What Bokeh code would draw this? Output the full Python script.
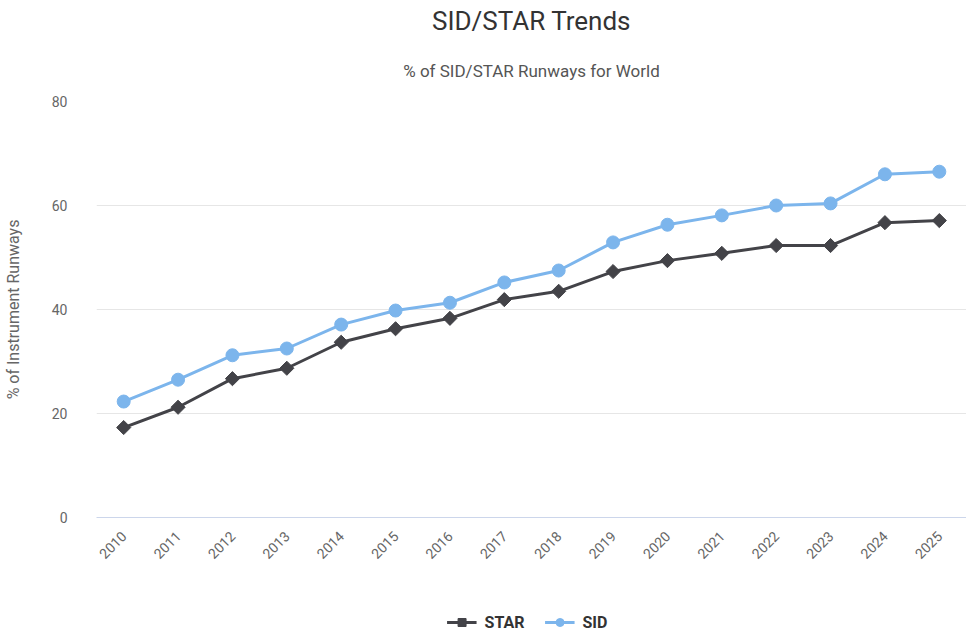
from math import pi
from bokeh.plotting import figure
from bokeh.layouts import column
from bokeh.models import Title, Legend, LegendItem, Range1d, FactorRange
from bokeh.embed import file_html
from bokeh.resources import INLINE

years = [str(y) for y in range(2010, 2026)]
star = [17.3, 21.2, 26.7, 28.7, 33.7, 36.3, 38.3, 41.9, 43.5, 47.3, 49.4, 50.8, 52.3, 52.3, 56.7, 57.1]
sid = [22.3, 26.5, 31.2, 32.5, 37.1, 39.8, 41.3, 45.2, 47.5, 52.9, 56.3, 58.1, 60.0, 60.4, 66.0, 66.5]
y_ticks = [0, 20, 40, 60, 80]

FONT = "Roboto"
STAR_COLOR = "#434348"
SID_COLOR = "#7cb5ec"

p = figure(x_range=FactorRange(*years), y_range=Range1d(0, 80),
           frame_width=870, frame_height=416, output_backend="svg", toolbar_location=None,
           title="SID/STAR Trends", min_border_left=88, min_border_right=0,
           min_border_top=0, min_border_bottom=92)
p.outline_line_color = None
p.background_fill_color = "white"
p.border_fill_color = "white"

p.title.align = "center"
p.title.text_font = FONT
p.title.text_font_size = "26px"
p.title.text_font_style = "normal"
p.title.text_color = "#333333"
p.title.standoff = 6

sub = Title(text="% of SID/STAR Runways for World", align="center",
            text_font=FONT, text_font_size="17px", text_font_style="normal",
            text_color="#555555", standoff=41)
p.add_layout(sub, "above")


def draw(fig):
    ls = fig.line(years, star, line_color=STAR_COLOR, line_width=3)
    ms = fig.scatter(years, star, marker="square", angle=pi / 4, size=10,
                     fill_color=STAR_COLOR, line_color=STAR_COLOR)
    ld = fig.line(years, sid, line_color=SID_COLOR, line_width=3)
    md = fig.scatter(years, sid, marker="circle", size=13, fill_color=SID_COLOR, line_color=SID_COLOR)
    return ls, ms, ld, md


draw(p)

# axes
p.yaxis.ticker = y_ticks
p.yaxis.axis_label = "% of Instrument Runways"
p.yaxis.axis_label_text_font = FONT
p.yaxis.axis_label_text_font_size = "16px"
p.yaxis.axis_label_text_font_style = "normal"
p.yaxis.axis_label_text_color = "#666666"
p.yaxis.axis_label_standoff = 26
p.yaxis.axis_line_color = None
p.yaxis.major_tick_line_color = None
p.yaxis.minor_tick_line_color = None
p.yaxis.major_label_text_font = FONT
p.yaxis.major_label_text_font_size = "14px"
p.yaxis.major_label_text_color = "#666666"
p.yaxis.major_label_standoff = 23

p.xaxis.axis_line_color = "#ccd6eb"
p.xaxis.major_tick_line_color = None
p.xaxis.minor_tick_line_color = None
p.xaxis.major_label_orientation = pi / 4
p.xaxis.major_label_text_font = FONT
p.xaxis.major_label_text_font_size = "14px"
p.xaxis.major_label_text_color = "#666666"
p.xaxis.major_label_standoff = 10

p.xgrid.grid_line_color = None
p.ygrid.grid_line_color = "#e6e6e6"

# legend strip below the chart (series drawn outside its visible range)
lg = figure(x_range=p.x_range, y_range=Range1d(-20, -10), width=958, height=26,
            output_backend="svg", toolbar_location=None,
            x_axis_location=None, y_axis_location=None,
            min_border_left=0, min_border_right=0, min_border_top=0, min_border_bottom=0)
lg.outline_line_color = None
lg.xgrid.grid_line_color = None
lg.ygrid.grid_line_color = None
ls, ms, ld, md = draw(lg)

legend = Legend(items=[LegendItem(label="STAR", renderers=[ls, ms]),
                       LegendItem(label="SID", renderers=[ld, md])],
                orientation="horizontal", location="center",
                border_line_color=None, background_fill_alpha=0,
                label_text_font=FONT, label_text_font_size="16px",
                label_text_font_style="bold", label_text_color="#333333",
                glyph_width=30, label_standoff=8, spacing=20, margin=0, padding=2)
lg.add_layout(legend)

layout = column(p, lg, spacing=0)
open("out.html", "w").write(file_html(layout, INLINE))
